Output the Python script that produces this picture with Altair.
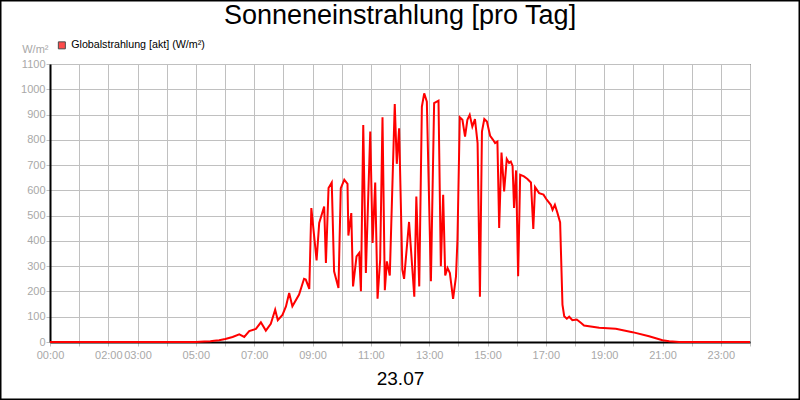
import altair as alt
import pandas as pd

# time of day in decimal hours
hours = [0.0, 5.0, 5.29, 5.5, 5.63, 5.8, 6.01, 6.26, 6.49, 6.66, 6.83, 7.06, 7.23, 7.40, 7.57, 7.72,
         7.81, 7.97, 8.09, 8.20, 8.31, 8.54, 8.71, 8.77, 8.89, 8.96, 9.14, 9.23, 9.40, 9.46,
         9.55, 9.66, 9.74, 9.89, 9.97, 10.09, 10.20, 10.23, 10.33, 10.39, 10.51, 10.60, 10.66,
         10.74, 10.83, 10.98, 11.06, 11.15, 11.23, 11.32, 11.40, 11.48, 11.55, 11.65, 11.82,
         11.89, 11.97, 12.08, 12.14, 12.31, 12.49, 12.56, 12.66, 12.75, 12.83, 12.92, 13.06,
         13.17, 13.32, 13.40, 13.48, 13.55, 13.63, 13.71, 13.82, 13.92, 13.97, 14.05, 14.14,
         14.23, 14.31, 14.39, 14.48, 14.57, 14.66, 14.74, 14.81, 14.89, 14.98, 15.09, 15.19,
         15.26, 15.34, 15.40, 15.48, 15.57, 15.66, 15.74, 15.80, 15.86, 15.91, 15.98, 16.05,
         16.12, 16.25, 16.37, 16.49, 16.57, 16.63, 16.77, 16.92, 17.03, 17.17, 17.23, 17.31,
         17.40, 17.49, 17.57, 17.63, 17.72, 17.80, 17.91, 18.06, 18.20, 18.31, 18.83, 19.40,
         19.97, 20.54, 21.00, 21.23, 21.57, 24.0]

# global radiation in W/m²
values = [0, 0, 2, 3, 5, 7, 12, 20, 30, 20, 43, 52, 78, 45, 72, 128,
          86, 107, 141, 194, 141, 188, 250, 247, 210, 530, 323, 471, 536, 313,
          609, 631, 280, 214, 609, 642, 626, 421, 510, 220, 339, 352, 201,
          859, 273, 833, 392, 631, 171, 326, 889, 205, 319, 263, 942,
          705, 846, 286, 250, 475, 179, 576, 220, 931, 984, 951, 240,
          945, 955, 300, 583, 263, 293, 273, 171, 260, 405, 889, 879,
          813, 879, 899, 852, 882, 787, 179, 833, 882, 872, 816, 800,
          787, 793, 451, 750, 596, 724, 708, 714, 697, 530, 679, 260,
          662, 655, 645, 631, 447, 613, 589, 583, 563, 543, 523, 543,
          510, 473, 148, 102, 92, 100, 86, 89, 76, 65, 56, 52,
          39, 23, 7, 3, 0, 0]

assert len(hours) == len(values)

series_name = "Globalstrahlung [akt] (W/m²)"
chart_title = "Sonneneinstrahlung [pro Tag]"
date_label = "23.07"
y_unit = "W/m²"
x_tick_hours = list(range(0, 25))
x_label_hours = [0, 2, 3, 5, 7, 9, 11, 13, 15, 17, 19, 21, 23]
y_ticks = list(range(0, 1101, 100))

df = pd.DataFrame({"h": hours, "v": values, "s": [series_name] * len(hours)})

FONT = "Liberation Sans"
GRAY = "#a8a8a8"
GRID = "#c0c0c0"
W, H = 700, 278

label_set = ",".join(str(h) for h in x_label_hours)
label_expr = (f"indexof([{label_set}], datum.value) >= 0 ? "
              "(datum.value < 10 ? '0' : '') + datum.value + ':00' : ''")

x_enc = alt.X(
    "h:Q",
    scale=alt.Scale(domain=[0, 24], nice=False, zero=False),
    axis=alt.Axis(
        values=x_tick_hours, labelExpr=label_expr, labelOverlap=False, labelFlush=False,
        labelFont=FONT, labelFontSize=11, labelColor=GRAY, labelPadding=3,
        tickSize=4, tickColor=GRID, grid=True, gridColor=GRID, gridWidth=1,
        domainColor="black", domainWidth=2,
        title=date_label, titleX=W / 2, titleY=42, titleAlign="center",
        titleBaseline="alphabetic", titleFont=FONT, titleFontSize=19,
        titleFontWeight="normal", titleColor="black",
    ),
)
y_enc = alt.Y(
    "v:Q",
    scale=alt.Scale(domain=[0, 1100], nice=False),
    axis=alt.Axis(
        values=y_ticks, format="d", labelFont=FONT, labelFontSize=11, labelColor=GRAY,
        labelPadding=1, tickSize=4, tickColor=GRID, grid=True, gridColor=GRID, gridWidth=1,
        domainColor="black", domainWidth=2,
        title=y_unit, titleAngle=0, titleX=-2, titleY=-12, titleAlign="right",
        titleBaseline="alphabetic", titleFont=FONT, titleFontSize=11,
        titleFontWeight="normal", titleColor=GRAY,
    ),
)

line = alt.Chart(df).mark_line(color="#ff0000", strokeWidth=2).encode(x=x_enc, y=y_enc)

legend_layer = alt.Chart(df).mark_square(filled=True, size=0).encode(
    x=x_enc, y=y_enc,
    color=alt.Color(
        "s:N", scale=alt.Scale(range=["#ff0000"]),
        legend=alt.Legend(
            title=None, orient="none", legendX=6.5, legendY=-24, padding=0,
            symbolType="square", symbolSize=49, symbolStrokeColor="black",
            symbolStrokeWidth=1, symbolFillColor="#ff0000", labelOffset=4,
            labelFont=FONT, labelFontSize=10.7, labelColor="black",
        ),
    ),
)

frame = alt.Chart(pd.DataFrame({"a": [0]})).mark_rect(
    fill="transparent", stroke="black", strokeWidth=1.5, clip=False
).encode(
    x=alt.value(-49.25), x2=alt.value(W + 49.25),
    y=alt.value(-63.25), y2=alt.value(H + 57.25),
)

chart = (
    alt.layer(line, legend_layer, frame)
    .properties(
        width=W, height=H,
        title=alt.TitleParams(
            chart_title, font=FONT, fontSize=27, fontWeight="normal", color="black",
            anchor="middle", frame="group", baseline="alphabetic", offset=0, dy=51,
        ),
        autosize=alt.AutoSizeParams(type="none"),
        padding={"left": 50, "top": 64, "right": 50, "bottom": 58},
        background="white",
    )
    .configure_view(stroke="black", strokeWidth=1)
)

chart.save("out.html", embed_options={"renderer": "svg", "actions": False})
